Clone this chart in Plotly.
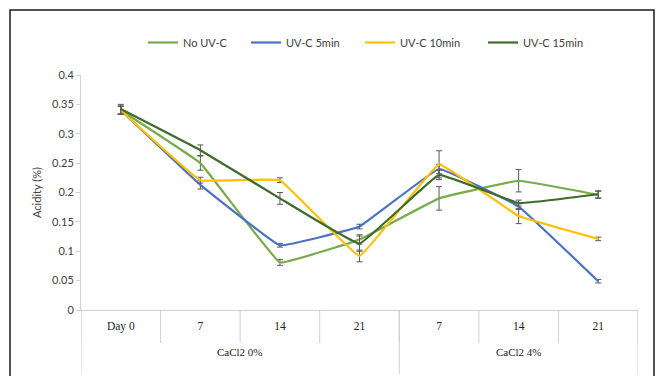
import plotly.graph_objects as go

days = ["Day 0", "7", "14", "21", "7", "14", "21"]
groups = ["CaCl2 0%", "CaCl2 4%"]
group_sizes = [4, 3]
series_names = ["No UV-C", "UV-C 5min", "UV-C 10min", "UV-C 15min"]
no_uvc = [0.340, 0.250, 0.081, 0.120, 0.190, 0.220, 0.196]
uvc_5 = [0.340, 0.213, 0.110, 0.142, 0.240, 0.176, 0.049]
uvc_10 = [0.340, 0.221, 0.221, 0.092, 0.248, 0.160, 0.121]
uvc_15 = [0.342, 0.272, 0.190, 0.113, 0.230, 0.182, 0.197]
err_no = [0.007, 0.012, 0.005, 0.008, 0.020, 0.019, 0.006]
err_5 = [0.007, 0.007, 0.003, 0.004, 0.008, 0.005, 0.003]
err_10 = [0.007, 0.005, 0.004, 0.010, 0.023, 0.013, 0.003]
err_15 = [0.008, 0.009, 0.010, 0.013, 0.008, 0.005, 0.006]
colors = ["#77AB4A", "#4A72C4", "#FFC000", "#3E6B2A"]
y_ticks = [0, 0.05, 0.1, 0.15, 0.2, 0.25, 0.3, 0.35, 0.4]
y_labels = ["0", "0.05", "0.1", "0.15", "0.2", "0.25", "0.3", "0.35", "0.4"]

W, H = 658, 376
L, R, T, B = 81, 20, 75, 66
pw, ph = W - L - R, H - T - B

x = list(range(len(days)))
fig = go.Figure()
legends = ["legend", "legend2", "legend3", "legend4"]
for name, ys, es, c, lg in zip(series_names, [no_uvc, uvc_5, uvc_10, uvc_15],
                               [err_no, err_5, err_10, err_15], colors, legends):
    fig.add_trace(go.Scatter(
        x=x, y=ys, name=name, mode="lines", legend=lg, showlegend=True,
        line=dict(color=c, width=2.2, shape="spline", smoothing=0.2),
        error_y=dict(type="data", array=es, visible=True, color="#5a5a5a",
                     thickness=1, width=3),
    ))

def px2paper_x(p):
    return (p - L) / pw

def px2paper_y(p):
    return (H - B - p) / ph

leg_x = [143, 246, 360, 483]
leg_font = dict(family="Lato, Open Sans, sans-serif", size=11, color="#404040")
leg_layout = {}
for lg, lx in zip(legends, leg_x):
    leg_layout[lg] = dict(x=lx / W, xref="container", y=1 - 28 / H, yref="container",
                          xanchor="left", yanchor="top", orientation="h",
                          font=leg_font, bgcolor="rgba(0,0,0,0)", borderwidth=0)

shapes = []
for i in range(len(days) + 1):
    xv = i - 0.5
    shapes.append(dict(type="line", xref="x", yref="paper", x0=xv, x1=xv,
                       y0=0, y1=px2paper_y(343), line=dict(color="#d0d0d0", width=1)))
pos = -0.5
bounds = [pos]
for g in group_sizes:
    pos += g
    bounds.append(pos)
for b in bounds:
    shapes.append(dict(type="line", xref="x", yref="paper", x0=b, x1=b,
                       y0=0, y1=px2paper_y(374), line=dict(color="#d0d0d0", width=1)))
shapes.append(dict(type="rect", xref="paper", yref="paper",
                   x0=px2paper_x(10), x1=px2paper_x(654),
                   y0=px2paper_y(400), y1=px2paper_y(10),
                   line=dict(color="#1a1a1a", width=1.5), fillcolor="rgba(0,0,0,0)"))

annotations = []
start = 0
for gname, g in zip(groups, group_sizes):
    center = start + (g - 1) / 2
    annotations.append(dict(text=gname, x=center, xref="x", y=px2paper_y(352), yref="paper",
                            showarrow=False, xanchor="center", yanchor="middle",
                            font=dict(family="Liberation Serif, Times New Roman, serif",
                                      size=11, color="#222222")))
    start += g

fig.update_layout(
    width=W, height=H, showlegend=True,
    margin=dict(l=L, r=R, t=T, b=B, autoexpand=False),
    paper_bgcolor="white", plot_bgcolor="white",
    shapes=shapes, annotations=annotations,
    **leg_layout,
    xaxis=dict(range=[-0.5, len(days) - 0.5], tickvals=x, ticktext=days,
               showgrid=False, zeroline=False, showline=True, linecolor="#d0d0d0",
               ticks="", ticklabelstandoff=5,
               tickfont=dict(family="Liberation Serif, Times New Roman, serif", size=11.5,
                             color="#222222")),
    yaxis=dict(range=[0, 0.4], tickvals=y_ticks, ticktext=y_labels,
               showgrid=False, zeroline=False, showline=True, linecolor="#d0d0d0",
               ticks="outside", ticklen=4, tickcolor="#d0d0d0",
               tickfont=dict(family="Lato, Open Sans, sans-serif", size=11, color="#404040"),
               title=dict(text="Acidity (%)", standoff=8,
                          font=dict(family="Lato, Open Sans, sans-serif", size=11,
                                    color="#404040"))),
)

fig.write_html("out.html", config={"displayModeBar": False},
               post_script="document.body.style.margin='0';")
